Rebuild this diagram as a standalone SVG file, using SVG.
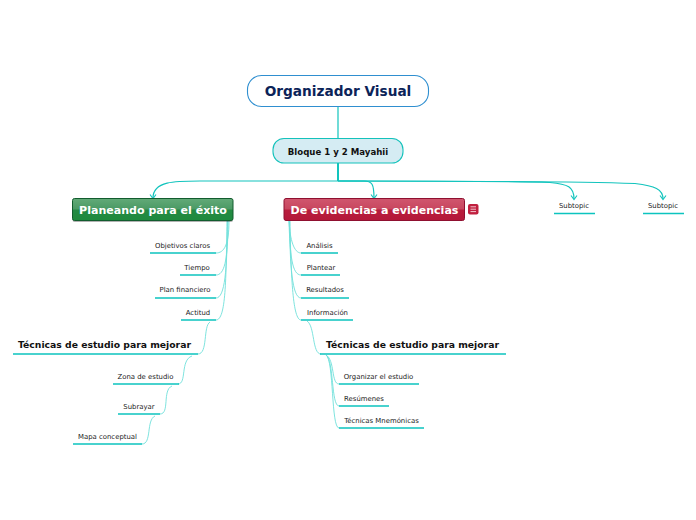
<svg xmlns="http://www.w3.org/2000/svg" width="696" height="520" viewBox="0 0 696 520">
<style>
text{font-family:"DejaVu Sans",Verdana,sans-serif;text-anchor:middle}
.s{font-size:6.9px;fill:#222}
.b{font-size:9.25px;font-weight:bold;fill:#111}
.u{stroke:#0cc4bf;stroke-width:1.6;fill:none}
.c{stroke:#12c4bd;stroke-width:1.200;fill:none}
.t{stroke:#6fe0da;stroke-width:.9;fill:none}
.w{font-size:11.05px;font-weight:bold;fill:#fff}
.h{stroke:#12c4bd;stroke-width:1.100;fill:none}
</style>
<defs>
<linearGradient id="g" x1="0" y1="0" x2="0" y2="1"><stop offset="0" stop-color="#62aa78"/><stop offset=".48" stop-color="#4b9a65"/><stop offset=".52" stop-color="#238a43"/><stop offset="1" stop-color="#1f8a3e"/></linearGradient>
<linearGradient id="r" x1="0" y1="0" x2="0" y2="1"><stop offset="0" stop-color="#d0566e"/><stop offset=".48" stop-color="#c8475f"/><stop offset=".52" stop-color="#b81d3c"/><stop offset="1" stop-color="#b4183a"/></linearGradient>
</defs>
<g id="connectors">
<path class="c" d="M338 106V138"/>
<path class="c" style="stroke-width:2" d="M338 163V181"/>
<path class="c" d="M338 181H200C175 181 153 181 153 198"/>
<path class="h" d="M150 194.500L153 198.500L156 194.500"/>
<path class="c" d="M338 181H364C372 181 374 184 374 198"/>
<path class="h" d="M371 194.500L374 198.500L377 194.500"/>
<path class="c" d="M338 181C420 181 500 181 550 182.500C568 184 574 187 574 199"/>
<path class="h" d="M571 195.500L574 199.500L577 195.500"/>
<path class="c" d="M338 181C440 181 560 181 635 183.500C655 186 663 189 663 199"/>
<path class="h" d="M660 195.500L663 199.500L666 195.500"/>
<path class="t" d="M229 221C229 245 224 253 216 253"/>
<path class="t" d="M228 221C228 262 224 275 216 275"/>
<path class="t" d="M227.500 221C227 270 225 298 216 298"/>
<path class="t" d="M227 221C226 280 226 320 216 320"/>
<path class="t" d="M210 322C203 326 208 354 198 354"/>
<path class="t" d="M192 356C180 360 187 384 178 384"/>
<path class="t" d="M172 386C162 390 170 414 160 414"/>
<path class="t" d="M155 416C146 420 152 444 142 444"/>
<path class="t" d="M289 221C290 240 294 253 301 253"/>
<path class="t" d="M289 221C290 255 292 275 301 275"/>
<path class="t" d="M289.500 221C290 265 292 298 301 298"/>
<path class="t" d="M290 221C291 280 293 320 301 320"/>
<path class="t" d="M307 321C315 326 312 354 321 354"/>
<path class="t" d="M326 355C335 360 331 384 339 384"/>
<path class="t" d="M326 355C334 360 331 406 339 406"/>
<path class="t" d="M326 355C334 360 331 428 339 428"/>
<path class="u" d="M150 253H216M180 275H216M155 298H216M181 320H216M13 354H198M113 384H179M118 414H160M73 444H142"/>
<path class="u" d="M301 253H338M301 275H340M301 298H349M301 320H353M320 354H506M339 384H419M339 406H389M339 428H424M554 213.500H595M643 213.500H684"/>
</g>
<g id="root"><rect x="247.500" y="75.500" width="181" height="31" rx="14" fill="#fff" stroke="#2f8fd0" stroke-width="1.100"/><text x="338" y="96" font-size="13.700" font-weight="bold" fill="#0b2358">Organizador Visual</text></g>
<g id="main"><rect x="273" y="138.500" width="130" height="24.500" rx="11" fill="#d5ecf3" stroke="#14c2bb" stroke-width="1.100"/><text x="338" y="154.500" font-size="8.600" font-weight="bold" fill="#111">Bloque 1 y 2 Mayahii</text></g>
<g id="planeando"><rect x="72.500" y="200" width="160.500" height="22" rx="2" fill="#000" opacity=".3"/><rect x="72.500" y="198.500" width="160.500" height="22" rx="2" fill="url(#g)" stroke="#125c2e"/><text x="153" y="214" class="w">Planeando para el éxito</text></g>
<g id="evidencias"><rect x="284" y="198.500" width="180.500" height="22" rx="2" fill="url(#r)" stroke="#8f1030"/><text x="374.500" y="214" class="w">De evidencias a evidencias</text></g>
<g id="note"><rect x="468" y="204" width="10.500" height="10.500" rx="2" fill="#c0203f"/><path d="M470.500 206.800h5.500M470.500 209.200h5.500M470.500 211.600h5.500" stroke="#f3c5ce" stroke-width="1"/></g>
<g id="n1"><text class="s" x="182.500" y="248">Objetivos claros</text></g>
<g id="n2"><text class="s" x="197" y="270">Tiempo</text></g>
<g id="n3"><text class="s" x="185" y="292">Plan financiero</text></g>
<g id="n4"><text class="s" x="198" y="315">Actitud</text></g>
<g id="n5"><text class="b" x="104.500" y="348">Técnicas de estudio para mejorar</text></g>
<g id="n6"><text class="s" x="145.500" y="379">Zona de estudio</text></g>
<g id="n7"><text class="s" x="139" y="409">Subrayar</text></g>
<g id="n8"><text class="s" x="107.500" y="439">Mapa conceptual</text></g>
<g id="n9"><text class="s" x="319.500" y="248">Análisis</text></g>
<g id="n10"><text class="s" x="321" y="270">Plantear</text></g>
<g id="n11"><text class="s" x="325" y="292">Resultados</text></g>
<g id="n12"><text class="s" x="327.500" y="315">Información</text></g>
<g id="n13"><text class="b" x="412.500" y="348">Técnicas de estudio para mejorar</text></g>
<g id="n14"><text class="s" x="378.500" y="379">Organizar el estudio</text></g>
<g id="n15"><text class="s" x="364" y="401">Resúmenes</text></g>
<g id="n16"><text class="s" x="381.500" y="423">Técnicas Mnemónicas</text></g>
<g id="n17"><text class="s" x="574" y="208">Subtopic</text></g>
<g id="n18"><text class="s" x="663" y="208">Subtopic</text></g>
</svg>
